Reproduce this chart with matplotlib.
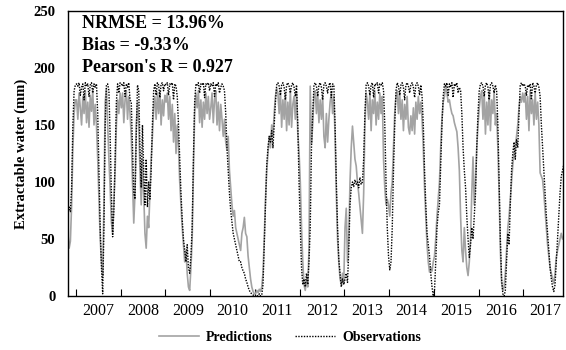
import matplotlib.pyplot as plt
import numpy as np

plt.rcParams['font.family'] = ['Liberation Serif', 'DejaVu Serif']

# Dekadal extractable water (mm), three values per month.
# 2006 starts at the 3rd dekad of October, 2017 ends at the 3rd dekad of November.
obs_2006 = [75, 78, 74, 95, 150, 180, 185]
pred_2006 = [55, 42, 48, 80, 130, 160, 172]

obs_2007 = [186, 184, 187, 176, 183, 186, 172, 187, 184, 186, 175, 185, 187, 178, 186, 183,
            186, 160, 110, 60, 25, 2, 60, 150, 185, 186, 180, 140, 90, 52, 75, 120, 170, 186, 178, 187]
pred_2007 = [172, 155, 178, 165, 150, 175, 160, 180, 152, 170, 148, 176, 162, 180, 150, 168,
             150, 120, 85, 50, 30, 18, 80, 170, 182, 150, 120, 95, 65, 55, 82, 110, 150, 172, 160, 178]

obs_2008 = [186, 184, 187, 175, 186, 183, 187, 172,
            170, 130, 90, 85, 140, 185, 180, 130, 95, 150, 110, 80, 120, 78, 100, 85, 110, 150,
            180, 186, 176, 187, 185, 174, 186, 187, 180, 186]
pred_2008 = [165, 178, 152, 172, 180, 155, 175, 160,
             140, 100, 64, 90, 150, 170, 150, 110, 80, 120, 90, 55, 42, 70, 60, 90, 120, 140,
             165, 175, 155, 178, 160, 180, 150, 172, 158, 176]

obs_2009 = [185, 187, 176, 186, 185, 187, 172, 186, 184,
            175, 150, 120, 90, 67, 50, 40, 30, 45, 25, 20, 35, 60, 120, 170, 186, 185, 187,
            178, 186, 185, 187, 174, 186, 185, 187, 180]
pred_2009 = [170, 178, 155, 175, 145, 168, 135, 160, 125,
             150, 130, 100, 80, 60, 45, 30, 40, 20, 8, 5, 25, 50, 110, 160, 178, 165, 180,
             152, 172, 148, 170, 155, 178, 160, 175, 155]

obs_2010 = [186, 184, 187, 175, 186, 184, 187, 178, 183, 186, 184, 180,
            160, 130, 110, 90, 75, 65, 55, 50, 45, 40, 35, 30, 30, 25, 22, 20, 15, 12, 8, 5, 3, 2, 1, 0]
pred_2010 = [165, 178, 152, 172, 180, 150, 170, 145, 168, 155, 140, 155,
             135, 128, 140, 110, 95, 80, 70, 75, 60, 55, 50, 45, 40, 55, 60, 69, 55, 52, 35, 25, 15, 8, 4, 2]

obs_2011 = [0, 1, 0, 2, 0, 1,
            10, 45, 80, 115, 130, 140, 135, 145, 130, 150, 170, 185, 187,
            184, 176, 185, 187, 183, 172, 185, 187, 184, 178, 185, 187, 183, 175, 185,
            150, 100]
pred_2011 = [2, 5, 3, 6, 4, 8,
             20, 50, 85, 110, 125, 140, 130, 150, 140, 160, 175, 182, 178,
             160, 180, 148, 172, 155, 178, 145, 170, 150, 180, 148, 168, 175, 155, 178,
             143, 126]

obs_2012 = [60, 25, 10, 15, 8, 20, 10, 30, 60, 130, 160, 185, 187,
            184, 175, 185, 187, 183, 172, 185, 187, 184, 178, 185, 187, 174, 186, 185,
            150, 100, 60, 32, 20, 8, 15, 10]
pred_2012 = [100, 60, 30, 10, 5, 15, 8, 40, 184, 134, 150, 175, 180,
             160, 178, 152, 172, 155, 175, 140, 130, 160, 135, 155, 170, 178, 160, 175,
             140, 90, 50, 30, 15, 10, 20, 12]

obs_2013 = [15, 20, 12, 40, 80, 95, 100, 96, 102, 98, 100, 95, 104, 98, 100, 120, 160, 185, 187,
            184, 176, 185, 187, 174, 186, 185, 187, 178, 186, 185, 187,
            180, 150, 100, 60, 35]
pred_2013 = [60, 77, 30, 50, 100, 130, 149, 135, 120, 114, 100, 90, 78, 65, 55, 90, 150, 178, 170,
             155, 178, 145, 172, 160, 180, 150, 170, 155, 178, 160, 175,
             120, 95, 80, 85, 80]

obs_2014 = [23, 30, 60, 110, 150, 180, 187,
            184, 176, 185, 187, 183, 172, 185, 187, 184, 178, 185, 187, 183, 174, 185, 187, 184, 176, 185,
            175, 150, 110, 80, 55, 45, 35, 20, 8, 0]
pred_2014 = [70, 90, 100, 130, 160, 175, 180,
             160, 178, 155, 172, 145, 168, 155, 175, 148, 142, 158, 145, 165, 142, 170, 155, 175, 160, 170,
             155, 130, 95, 70, 45, 30, 21, 25, 22, 30]

obs_2015 = [5, 30, 60, 73, 80, 115, 150, 175, 186,
            184, 187, 176, 186, 183, 187, 174, 186, 184, 187, 178, 183,
            180, 160, 130, 110, 95, 70, 50, 34, 45, 60, 50, 70, 90, 130, 160]
pred_2015 = [35, 50, 70, 85, 100, 130, 155, 170, 175,
             185, 178, 170, 172, 165, 160, 158, 152, 148, 144, 130, 110,
             70, 40, 30, 60, 40, 25, 18, 30, 50, 90, 122, 80, 100, 130, 150]

obs_2016 = [180, 186, 187,
            184, 175, 185, 187, 183, 172, 185, 187, 184, 178, 185, 180,
            150, 100, 50, 15, 2, 0, 5, 30, 55, 45, 80, 110, 125, 135, 120, 137, 130, 160, 185, 187, 184]
pred_2016 = [165, 175, 180,
             155, 178, 142, 170, 150, 180, 145, 172, 160, 180, 150, 160,
             130, 90, 40, 12, 5, 8, 20, 40, 60, 70, 85, 100, 115, 125, 130, 140, 150, 165, 175, 170, 178]

obs_2017 = [186, 184, 176, 185, 183, 186, 172, 187, 184, 178, 185, 187, 183,
            175, 150, 130, 110, 90, 70, 55, 40, 25, 15, 8, 4, 10, 30, 50, 70, 90, 105, 110, 115]
pred_2017 = [170, 178, 155, 175, 145, 180, 160, 172, 150, 178, 155, 170, 150,
             108, 105, 102, 90, 75, 60, 45, 35, 25, 20, 15, 11, 20, 34, 40, 45, 50, 55, 50, 52]

years = list(range(2006, 2018))
obs_by_year = [obs_2006, obs_2007, obs_2008, obs_2009, obs_2010, obs_2011,
               obs_2012, obs_2013, obs_2014, obs_2015, obs_2016, obs_2017]
pred_by_year = [pred_2006, pred_2007, pred_2008, pred_2009, pred_2010, pred_2011,
                pred_2012, pred_2013, pred_2014, pred_2015, pred_2016, pred_2017]
year_labels = [str(y) for y in range(2007, 2018)]


# decimal year at the middle of each dekad
def dekad_times(year, n, first=0):
    return [year + (first + i + 0.5) / 36 for i in range(n)]


t, obs, pred = [], [], []
for y, o, p in zip(years, obs_by_year, pred_by_year):
    first = 29 if y == 2006 else 0
    t += dekad_times(y, len(o), first)
    obs += o
    pred += p

fig, ax = plt.subplots(figsize=(5.66, 3.5), dpi=100)
fig.subplots_adjust(left=0.120, right=0.995, bottom=0.154, top=0.969)

ax.plot(t, pred, color='#a3a3a3', lw=1.2, label='Predictions', zorder=2)
ax.plot(t, obs, color='black', lw=1.0, ls=(0, (1, 1)), label='Observations', zorder=3)

ax.set_xlim(2006.82, 2017.89)
ax.set_ylim(0, 250)
ax.set_yticks(range(0, 251, 50))

# year boundaries as ticks, year names centred between them
ax.set_xticks(range(2007, 2018))
ax.set_xticklabels([])
ax.set_xticks(np.arange(2007.5, 2018, 1), minor=True)
ax.set_xticklabels(year_labels, minor=True)
ax.tick_params(axis='x', which='major', direction='in', length=5, width=0.8)
ax.tick_params(axis='x', which='minor', length=0, pad=5, labelsize=11.5)
ax.tick_params(axis='y', length=0, pad=9, labelsize=10.5)
for lab in ax.get_yticklabels():
    lab.set_fontweight('bold')

for s in ax.spines.values():
    s.set_linewidth(1.0)

ax.set_ylabel('Extractable water (mm)', fontsize=10.5, fontweight='bold', labelpad=4)

stats = ['NRMSE = 13.96%', 'Bias = -9.33%', "Pearson's R = 0.927"]
for i, s in enumerate(stats):
    ax.text(0.028, 0.954 - i * 0.077, s, transform=ax.transAxes, fontsize=13,
            fontweight='bold', va='center', ha='left')

fig.legend(loc='center', bbox_to_anchor=(0.512, 0.037), ncol=2, frameon=False,
           prop={'weight': 'bold', 'size': 10}, handlelength=2.9, handletextpad=0.5,
           columnspacing=1.6)

fig.savefig('out.png', dpi=100)
